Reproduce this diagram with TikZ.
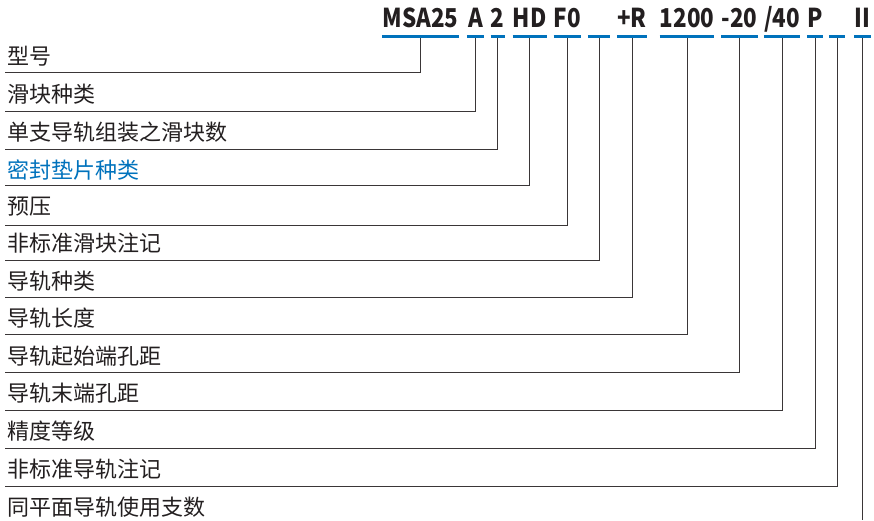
\documentclass[tikz,border=0pt]{standalone}
\usepackage{fontspec}
\newfontfamily\cjk{Noto Sans CJK SC}
\newfontfamily\codefont[FakeStretch=0.86]{Noto Sans CJK SC}
\definecolor{codeblue}{RGB}{0,114,188}
\definecolor{leadgray}{RGB}{58,54,55}
\definecolor{inkblack}{RGB}{35,31,32}

\begin{document}
\begin{tikzpicture}[x=1pt, y=-1pt,
    code/.style={font=\codefont\bfseries\fontsize{26}{26}\selectfont, text=inkblack, inner xsep=0pt, inner ysep=0pt, anchor=base},
    rowlabel/.style={font=\cjk\fontsize{22}{22}\selectfont, text=inkblack, anchor=west, inner sep=0pt},
    leader/.style={draw=leadgray, line width=1pt},
    bar/.style={draw=codeblue, line width=3pt}]
    \useasboundingbox (0,0) rectangle (874,520);
    % order code
    \node (msa) [code, minimum width=77pt] at (420.5,27) {MSA25};
    \node (blocktype) [code, minimum width=17pt] at (475.5,27) {A};
    \node (blockcount) [code, minimum width=11pt] at (497.5,27) {2};
    \node (seal) [code, minimum width=33pt] at (529.5,27) {HD};
    \node (preload) [code, minimum width=27pt] at (567.5,27) {F0};
    \node (blocknote) [code, minimum width=22pt] at (599,27) {};
    \node (railtype) [code, minimum width=30pt] at (632,27) {+R};
    \node (raillen) [code, minimum width=52pt] at (687,27) {1200};
    \node (startpitch) [code, minimum width=33pt] at (739.5,27) {-20};
    \node (endpitch) [code, minimum width=32pt] at (782,27) {/40};
    \node (grade) [code, minimum width=16pt] at (815,27) {P};
    \node (railnote) [code, minimum width=16pt] at (837,27) {};
    \node (railset) [code, minimum width=11pt] at (862.5,27) {II};
    \coordinate (barline) at (0,36);
    \coordinate (bottom) at (0,520);
    % row labels
    \node (lmodel) [rowlabel] at (7,56) {型号};
    \node (lblocktype) [rowlabel] at (7,94) {滑块种类};
    \node (lblockcount) [rowlabel] at (7,132) {单支导轨组装之滑块数};
    \node (lseal) [rowlabel, text=codeblue] at (7,170) {密封垫片种类};
    \node (lpreload) [rowlabel] at (7,207) {预压};
    \node (lblocknote) [rowlabel] at (7,243) {非标准滑块注记};
    \node (lrailtype) [rowlabel] at (7,281) {导轨种类};
    \node (lraillen) [rowlabel] at (7,318) {导轨长度};
    \node (lstartpitch) [rowlabel] at (7,356) {导轨起始端孔距};
    \node (lendpitch) [rowlabel] at (7,393) {导轨末端孔距};
    \node (lgrade) [rowlabel] at (7,431) {精度等级};
    \node (lrailnote) [rowlabel] at (7,469) {非标准导轨注记};
    \node (lrailset) [rowlabel] at (7,507) {同平面导轨使用支数};
    % row lines
    \coordinate (r1) at (5,72);
    \coordinate (r2) at (5,111);
    \coordinate (r3) at (5,149);
    \coordinate (r4) at (5,185);
    \coordinate (r5) at (5,225);
    \coordinate (r6) at (5,260);
    \coordinate (r7) at (5,297);
    \coordinate (r8) at (5,334);
    \coordinate (r9) at (5,372);
    \coordinate (r10) at (5,410);
    \coordinate (r11) at (5,448);
    \coordinate (r12) at (5,486);
    \draw[leader] (r1) -| (msa.south |- barline);
    \draw[leader] (r2) -| (blocktype.south |- barline);
    \draw[leader] (r3) -| (blockcount.south |- barline);
    \draw[leader] (r4) -| (seal.south |- barline);
    \draw[leader] (r5) -| (preload.south |- barline);
    \draw[leader] (r6) -| (blocknote.south |- barline);
    \draw[leader] (r7) -| (railtype.south |- barline);
    \draw[leader] (r8) -| (raillen.south |- barline);
    \draw[leader] (r9) -| (startpitch.south |- barline);
    \draw[leader] (r10) -| (endpitch.south |- barline);
    \draw[leader] (r11) -| (grade.south |- barline);
    \draw[leader] (r12) -| (railnote.south |- barline);
    \draw[leader] (railset.south |- barline) -- (railset.south |- bottom);
    % blue underlines
    \draw[bar] (msa.west |- barline) -- (msa.east |- barline);
    \draw[bar] (blocktype.west |- barline) -- (blocktype.east |- barline);
    \draw[bar] (blockcount.west |- barline) -- (blockcount.east |- barline);
    \draw[bar] (seal.west |- barline) -- (seal.east |- barline);
    \draw[bar] (preload.west |- barline) -- (preload.east |- barline);
    \draw[bar] (blocknote.west |- barline) -- (blocknote.east |- barline);
    \draw[bar] (railtype.west |- barline) -- (railtype.east |- barline);
    \draw[bar] (raillen.west |- barline) -- (raillen.east |- barline);
    \draw[bar] (startpitch.west |- barline) -- (startpitch.east |- barline);
    \draw[bar] (endpitch.west |- barline) -- (endpitch.east |- barline);
    \draw[bar] (grade.west |- barline) -- (grade.east |- barline);
    \draw[bar] (railnote.west |- barline) -- (railnote.east |- barline);
    \draw[bar] (railset.west |- barline) -- (railset.east |- barline);
\end{tikzpicture}
\end{document}
